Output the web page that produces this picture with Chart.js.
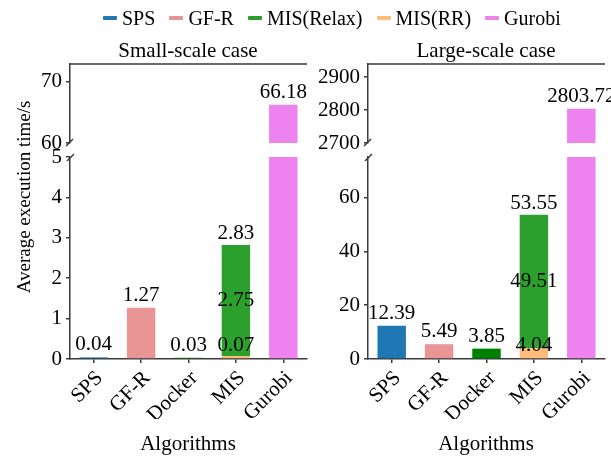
<!DOCTYPE html>
<html><head><meta charset="utf-8">
<script src="https://cdn.jsdelivr.net/npm/chart.js@4.4.0/dist/chart.umd.min.js"></script>
<style>
html,body{margin:0;padding:0;background:#fff;}
#wrap{position:relative;width:611px;height:456px;overflow:hidden;font-family:"Liberation Serif","Times New Roman",serif;color:#000;}
canvas{position:absolute;left:0;top:0;}
.t{position:absolute;white-space:nowrap;line-height:1;transform:translate(-50%,-50%);font-weight:normal;}
#legend{position:absolute;left:103px;top:18px;transform:translateY(-50%);display:flex;align-items:center;gap:14px;font-size:20px;line-height:1;white-space:nowrap;}
.li{display:flex;align-items:center;}
.sw{width:14px;height:4px;margin-right:5px;border-radius:1px;}
</style></head><body>
<div id="wrap">
<canvas id="lt" width="611" height="456"></canvas>
<canvas id="lb" width="611" height="456"></canvas>
<canvas id="rt" width="611" height="456"></canvas>
<canvas id="rb" width="611" height="456"></canvas>
<div id="legend"></div>
<div class="t" style="left:188px;top:50px;font-size:21px">Small-scale case</div>
<div class="t" style="left:486px;top:50px;font-size:21px">Large-scale case</div>
<div class="t" style="left:188px;top:443px;font-size:21px">Algorithms</div>
<div class="t" style="left:486px;top:443px;font-size:21px">Algorithms</div>
</div>
<script>
// ---- data ----
const categories = ["SPS", "GF-R", "Docker", "MIS", "Gurobi"];
const legendNames = ["SPS", "GF-R", "MIS(Relax)", "MIS(RR)", "Gurobi"];
const yTitle = "Average execution time/s";
const smallTimes = [0.04, 1.27, 0.03, 2.83, 66.18];
const smallMisParts = [0.07, 2.75];      // MIS(RR), MIS(Relax)
const largeTimes = [12.39, 5.49, 3.85, 53.55, 2803.72];
const largeMisParts = [4.04, 49.51];     // MIS(RR), MIS(Relax)
const smallLowTicks = [0, 1, 2, 3, 4, 5];
const smallHighTicks = [60, 70];
const largeLowTicks = [0, 20, 40, 60];
const largeHighTicks = [2700, 2800, 2900];
const smallLowRange = [0, 5];
const smallHighRange = [60, 72.8];
const largeLowRange = [0, 75];
const largeHighRange = [2700, 2940];

// ---- styles ----
const FONT = '"Liberation Serif", "Times New Roman", serif';
const AXIS = '#3a3a3a';
const C = {sps:'#1f77b4', gfr:'#e99595', docker:'#008000', relax:'#2ca02c', rr:'#ffbb78', gurobi:'#ee82ee'};
const legendColors = [C.sps, C.gfr, C.relax, C.rr, C.gurobi];
Chart.defaults.font.family = FONT;

const lg = document.getElementById('legend');
legendNames.forEach((n, i) => {
  const d = document.createElement('div'); d.className = 'li';
  d.innerHTML = '<span class="sw" style="background:' + legendColors[i] + '"></span><span>' + n + '</span>';
  lg.appendChild(d);
});

function only(i, v) { return categories.map((_, k) => k === i ? v : null); }
function makeDatasets(times, parts) {
  return [
    {label:'SPS', data: only(0, times[0]), backgroundColor: C.sps, lab:'top'},
    {label:'GF-R', data: only(1, times[1]), backgroundColor: C.gfr, lab:'top'},
    {label:'Docker', data: only(2, times[2]), backgroundColor: C.docker, lab:'top'},
    {label:'MIS(RR)', data: only(3, parts[0]), backgroundColor: C.rr, lab:'base'},
    {label:'MIS(Relax)', data: only(3, parts[1]), backgroundColor: C.relax, lab:'center', total: times[3]},
    {label:'Gurobi', data: only(4, times[4]), backgroundColor: C.gurobi, lab:'top'}
  ].map(d => Object.assign(d, {clip: 0, barPercentage: 0.6, categoryPercentage: 1, borderWidth: 0}));
}

const labelPlugin = {
  id: 'barLabels',
  afterDatasetsDraw(chart) {
    const {ctx, chartArea: a} = chart;
    ctx.save();
    ctx.font = '21px ' + FONT; ctx.fillStyle = '#000'; ctx.textAlign = 'center';
    chart.data.datasets.forEach((ds, di) => {
      const meta = chart.getDatasetMeta(di);
      meta.data.forEach((bar, i) => {
        const v = ds.data[i];
        if (v == null) return;
        const top = bar.y;
        if (top < a.top - 0.5 || top > a.bottom + 0.5) return;
        if (ds.lab === 'top') {
          ctx.textBaseline = 'alphabetic';
          ctx.fillText(v.toFixed(2), bar.x, top - 7);
        } else if (ds.lab === 'base') {
          ctx.textBaseline = 'alphabetic';
          ctx.fillText(v.toFixed(2), bar.x, bar.base - 7);
        } else if (ds.lab === 'center') {
          ctx.textBaseline = 'middle';
          ctx.fillText(v.toFixed(2), bar.x, (top + bar.base) / 2);
          ctx.textBaseline = 'alphabetic';
          ctx.fillText(ds.total.toFixed(2), bar.x, top - 6);
        }
      });
    });
    ctx.restore();
  }
};

const framePlugin = {
  id: 'frame',
  afterDraw(chart, args, opts) {
    const {ctx, chartArea: a} = chart;
    ctx.save();
    ctx.strokeStyle = AXIS; ctx.lineWidth = 1.5;
    ctx.beginPath();
    if (opts.seg === 'top') {
      ctx.moveTo(a.left, a.top); ctx.lineTo(a.right, a.top);
      ctx.moveTo(a.left - 4, a.bottom + 3); ctx.lineTo(a.left + 3, a.bottom - 4);
    } else {
      ctx.moveTo(a.left - 3, a.top + 4); ctx.lineTo(a.left + 4, a.top - 3);
    }
    ctx.stroke();
    if (opts.yTitle) {
      ctx.translate(25, 197);
      ctx.rotate(-Math.PI / 2);
      ctx.font = '19px ' + FONT; ctx.fillStyle = '#000';
      ctx.textAlign = 'center'; ctx.textBaseline = 'middle';
      ctx.fillText(opts.yTitle, 0, 0);
    }
    ctx.restore();
  }
};

function makeChart(id, times, parts, range, ticks, seg, panelLeft, panelRight, title) {
  const isTop = seg === 'top';
  const axisCommon = {
    grid: {display: true, drawOnChartArea: false, drawTicks: true, tickLength: 4, color: AXIS, lineWidth: 1.5, offset: false},
    border: {display: true, color: AXIS, width: 1.5}
  };
  return new Chart(document.getElementById(id), {
    type: 'bar',
    data: {labels: categories, datasets: makeDatasets(times, parts)},
    options: {
      responsive: false, animation: false, devicePixelRatio: 1,
      layout: {padding: {left: 0, right: 611 - panelRight, top: isTop ? 64 : 157, bottom: isTop ? 456 - 143 : 456 - 359 - 60}},
      plugins: {legend: {display: false}, tooltip: {enabled: false}, frame: {seg, yTitle: title || null}},
      scales: {
        x: Object.assign({}, axisCommon, {
          stacked: true, display: !isTop, offset: true,
          ticks: {color: '#000', font: {family: FONT, size: 21}, minRotation: 45, maxRotation: 45, padding: 3, labelOffset: 6, autoSkip: false},
          afterFit: s => { s.height = isTop ? 0 : 60; }
        }),
        y: Object.assign({}, axisCommon, {
          stacked: true, min: range[0], max: range[1],
          afterBuildTicks: s => { s.ticks = ticks.map(v => ({value: v})); },
          ticks: {color: '#000', font: {family: FONT, size: 21}, padding: 4, autoSkip: false, callback: v => String(v)},
          afterFit: s => { s.width = panelLeft; }
        })
      }
    },
    plugins: [labelPlugin, framePlugin]
  });
}

makeChart('lt', smallTimes, smallMisParts, smallHighRange, smallHighTicks, 'top', 70, 307);
makeChart('lb', smallTimes, smallMisParts, smallLowRange, smallLowTicks, 'bottom', 70, 307, yTitle);
makeChart('rt', largeTimes, largeMisParts, largeHighRange, largeHighTicks, 'top', 368, 605);
makeChart('rb', largeTimes, largeMisParts, largeLowRange, largeLowTicks, 'bottom', 368, 605);
</script>
</body></html>
